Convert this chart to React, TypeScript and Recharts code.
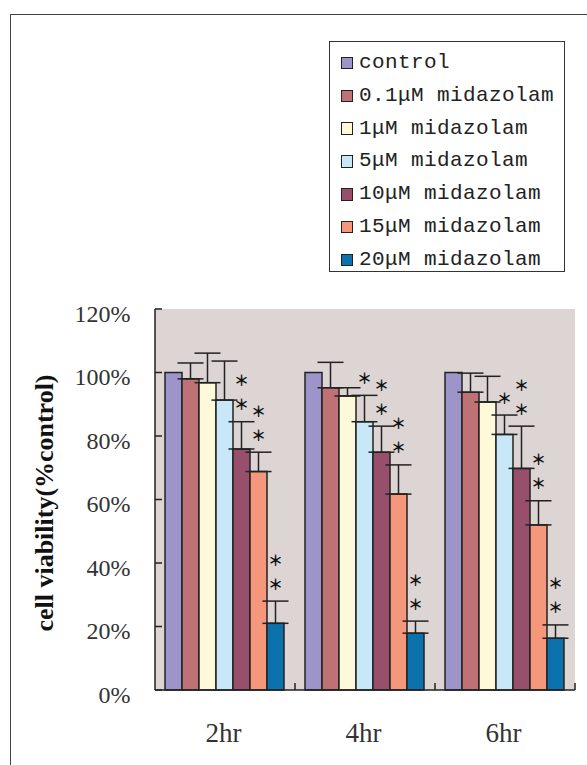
import React from 'react';
import { BarChart, Bar, XAxis, YAxis, ErrorBar, Legend, CartesianGrid, LabelList, Label } from 'recharts';

const categories = ['2hr', '4hr', '6hr'];
const seriesNames = ['control', '0.1μM midazolam', '1μM midazolam', '5μM midazolam', '10μM midazolam', '15μM midazolam', '20μM midazolam'];
const seriesColors = ['#9d95c9', '#be7276', '#fdf9d9', '#c8e8f8', '#984f6c', '#f5977a', '#0b72ae'];

const control = [100, 100, 100];
const mid01 = [98, 95.2, 93.8];
const mid1 = [96.8, 92.6, 90.7];
const mid5 = [91.3, 84.5, 80.5];
const mid10 = [75.9, 74.9, 69.8];
const mid15 = [68.8, 61.7, 52];
const mid20 = [21, 17.9, 16.3];

const errControl = [0, 0, 0];
const err01 = [5, 8, 6];
const err1 = [9.3, 2.6, 8.1];
const err5 = [12.3, 8.3, 6.1];
const err10 = [8.6, 8.2, 13.3];
const err15 = [6.1, 9.2, 7.6];
const err20 = [7, 3.8, 4.2];

// number of asterisks above each bar
const sigControl = [0, 0, 0];
const sig01 = [0, 0, 0];
const sig1 = [0, 0, 0];
const sig5 = [0, 1, 1];
const sig10 = [2, 2, 2];
const sig15 = [2, 2, 2];
const sig20 = [2, 2, 2];

const yTicks = [0, 20, 40, 60, 80, 100, 120];

const seriesValues = [control, mid01, mid1, mid5, mid10, mid15, mid20];
const seriesErrors = [errControl, err01, err1, err5, err10, err15, err20];
const seriesSig = [sigControl, sig01, sig1, sig5, sig10, sig15, sig20];

const data = categories.map((c, i) => {
  const row: any = { name: c };
  seriesValues.forEach((vals, s) => {
    row['s' + s] = vals[i];
    row['e' + s] = [0, seriesErrors[s][i]];
  });
  return row;
});

const makeStars = (s: number) => (props: any) => {
  const { x, y, width, height, value, index } = props;
  const n = seriesSig[s][index];
  if (!n) return null;
  const v = Array.isArray(value) ? value[1] : value;
  const pxPer = Number(height) / Number(v);
  const errTop = Number(y) - seriesErrors[s][index] * pxPer;
  const cx = Number(x) + Number(width) / 2;
  const out = [];
  for (let k = 0; k < n; k++) {
    out.push(
      <text key={k} x={cx} y={errTop - 18 - 24 * k} textAnchor="middle" dominantBaseline="central"
        fontFamily="Noto Sans CJK SC" fontWeight="bold" fontSize={15} fill="#111">＊</text>
    );
  }
  return <g>{out}</g>;
};

const YTick = (props: any) => {
  const { x, y, payload } = props;
  return (
    <g>
      <line x1={x} y1={y} x2={x + 7} y2={y} stroke="#222" strokeWidth={1.5} />
      <text x={x - 24.5} y={y + 12.5} textAnchor="end" fontFamily="Liberation Serif" fontSize={24} fill="#333">
        {payload.value}%
      </text>
    </g>
  );
};

const XTick = (props: any) => {
  const { x, y, payload } = props;
  const half = (587 - 12 - 155) / categories.length / 2;
  return (
    <g>
      <line x1={x + half} y1={y} x2={x + half} y2={y - 7} stroke="#222" strokeWidth={1.5} />
      <text x={x - 1.5} y={y + 52} textAnchor="middle" fontFamily="Liberation Serif" fontSize={27} fill="#333">
        {payload.value}
      </text>
    </g>
  );
};

const YLabel = (props: any) => {
  const vb = props.viewBox || {};
  const cy = vb.y + vb.height / 2 + 3.5;
  const bx = 52.5;
  return (
    <text x={bx} y={cy} transform={`rotate(-90, ${bx}, ${cy})`} textAnchor="middle"
      fontFamily="Liberation Serif" fontWeight="bold" fontSize={24.5} fill="#111"
      textLength={257} lengthAdjust="spacingAndGlyphs">
      cell viability(%control)
    </text>
  );
};

const renderLegend = (props: any) => {
  const payload = [...(props.payload || [])].sort(
    (a: any, b: any) => seriesNames.indexOf(a.value) - seriesNames.indexOf(b.value)
  );
  return (
    <div style={{ width: 236, height: 231, border: '1.5px solid #333', boxSizing: 'border-box', background: '#fff', position: 'relative' }}>
      {payload.map((p: any, i: number) => (
        <div key={i} style={{ position: 'absolute', left: 0, top: 21 + 32.83 * i - 14, height: 28, display: 'flex', alignItems: 'center' }}>
          <div style={{ marginLeft: 10.5, width: 12.5, height: 12.5, boxSizing: 'border-box', border: '1.5px solid #222', background: p.color }} />
          <span style={{ marginLeft: 6, fontFamily: 'Liberation Mono', fontSize: 21, color: '#222', whiteSpace: 'nowrap', lineHeight: '28px', letterSpacing: 0.4 }}>
            {p.value}
          </span>
        </div>
      ))}
    </div>
  );
};

export default function App() {
  return (
    <div style={{ position: 'absolute', left: 0, top: 0, width: 587, height: 765, background: '#fff', overflow: 'hidden' }}>
      <div style={{ position: 'absolute', left: 10, top: 14, width: 700, height: 800, borderLeft: '1.5px solid #444', borderTop: '1.5px solid #444' }} />
      <div style={{ position: 'absolute', left: 0, top: 0 }}>
        <BarChart width={587} height={765} data={data} margin={{ top: 309, right: 12, bottom: 5, left: 0 }}
          barCategoryGap={10} barGap={0}>
          <CartesianGrid horizontal={false} vertical={false} fill="#dcd5d3" stroke="none" />
          <XAxis dataKey="name" xAxisId={0} height={70} axisLine={{ stroke: '#222', strokeWidth: 1.5 }}
            tickLine={false} tickSize={0} tickMargin={0} tick={<XTick />} interval={0} />
          <XAxis dataKey="name" xAxisId="top" orientation="top" height={0} axisLine={{ stroke: '#b3aeab', strokeWidth: 2 }}
            tick={false} tickLine={false} />
          <YAxis yAxisId={0} width={155} domain={[0, 120]} ticks={yTicks} interval={0}
            axisLine={{ stroke: '#222', strokeWidth: 1.5 }} tickLine={false} tickSize={0} tickMargin={0} tick={<YTick />}>
            <Label content={<YLabel />} />
          </YAxis>
          <YAxis yAxisId="right" orientation="right" width={0} domain={[0, 120]}
            axisLine={{ stroke: '#b3aeab', strokeWidth: 2 }} tick={false} tickLine={false} />
          <Legend layout="horizontal" verticalAlign="middle" align="center" content={renderLegend}
            wrapperStyle={{ left: 329, top: 41, width: 236, height: 231 }} />
          {seriesNames.map((nm, s) => (
            <Bar key={s} dataKey={'s' + s} name={nm} fill={seriesColors[s]} stroke="#222" strokeWidth={1.5}
              xAxisId={0} yAxisId={0} isAnimationActive={false}>
              {s > 0 && <ErrorBar dataKey={'e' + s} width={13} stroke="#222" strokeWidth={1.5} direction="y" />}
              <LabelList dataKey={'s' + s} content={makeStars(s)} />
            </Bar>
          ))}
        </BarChart>
      </div>
    </div>
  );
}
